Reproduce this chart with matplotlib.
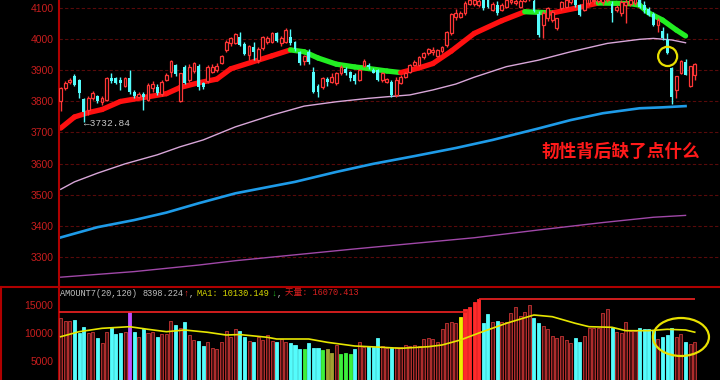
import numpy as np
import matplotlib.pyplot as plt
from matplotlib.patches import Ellipse
from matplotlib.lines import Line2D

plt.rcParams['font.family'] = ['Liberation Sans', 'Noto Sans CJK SC', 'DejaVu Sans']

# 日K线 开 高 低 收
opens = [3800, 3843, 3862, 3882, 3869, 3807, 3772, 3810, 3817, 3797,
         3805, 3876, 3875, 3868, 3850, 3875, 3832, 3815, 3825, 3805,
         3843, 3845, 3824, 3870, 3895, 3917, 3800, 3912, 3868, 3898,
         3914, 3858, 3865, 3895, 3900, 3925, 3966, 3987, 3988, 4008,
         3985, 3950, 3975, 3933, 3971, 3992, 3992, 4021, 3988, 3992,
         4006, 3990, 3960, 3930, 3960, 3895, 3850, 3845, 3872, 3864,
         3858, 3890, 3906, 3895, 3885, 3868, 3915, 3918, 3900, 3901,
         3869, 3864, 3864, 3821, 3859, 3878, 3896, 3918, 3917, 3942,
         3955, 3958, 3945, 3961, 3982, 4020, 4073, 4073, 4086, 4115,
         4115, 4112, 4130, 4130, 4095, 4112, 4095, 4105, 4120, 4118,
         4105, 4125, 4130, 4125, 4083, 4045, 4068, 4062, 4036, 4100,
         4105, 4120, 4130, 4110, 4095, 4118, 4122, 4125, 4120, 4128,
         4115, 4095, 4084, 4110, 4115, 4118, 4135, 4112, 4097, 4083,
         4046, 4028, 3998, 3907, 3837, 3891, 3928, 3849, 3885]
highs = [3845, 3866, 3875, 3887, 3873, 3810, 3816, 3835, 3822, 3818,
         3878, 3890, 3880, 3880, 3880, 3900, 3838, 3830, 3830, 3858,
         3866, 3855, 3868, 3890, 3935, 3922, 3893, 3918, 3920, 3926,
         3920, 3862, 3916, 3920, 3925, 3950, 3998, 4008, 4022, 4025,
         3990, 3982, 3990, 3975, 4012, 4012, 4024, 4025, 4010, 4035,
         4032, 3995, 3964, 3950, 3968, 3912, 3856, 3880, 3880, 3890,
         3895, 3916, 3912, 3898, 3890, 3905, 3937, 3925, 3908, 3905,
         3895, 3874, 3868, 3878, 3885, 3895, 3920, 3933, 3945, 3960,
         3972, 3976, 3970, 3980, 4028, 4085, 4097, 4090, 4125, 4135,
         4130, 4130, 4135, 4135, 4120, 4125, 4118, 4135, 4135, 4135,
         4130, 4145, 4145, 4130, 4092, 4090, 4105, 4095, 4070, 4125,
         4135, 4138, 4138, 4115, 4140, 4140, 4142, 4145, 4140, 4142,
         4122, 4112, 4128, 4130, 4130, 4140, 4140, 4122, 4103, 4088,
         4068, 4041, 4020, 3912, 3883, 3935, 3938, 3915, 3925]
lows = [3768, 3838, 3855, 3850, 3810, 3732.84, 3755, 3805, 3795, 3790,
        3800, 3860, 3855, 3838, 3845, 3825, 3810, 3810, 3772, 3800,
        3832, 3820, 3818, 3865, 3880, 3882, 3798, 3855, 3862, 3893,
        3837, 3840, 3860, 3890, 3895, 3920, 3960, 3977, 3985, 3978,
        3948, 3935, 3935, 3925, 3965, 3985, 3988, 3990, 3978, 3988,
        3983, 3962, 3918, 3918, 3922, 3828, 3815, 3840, 3850, 3858,
        3854, 3885, 3886, 3865, 3855, 3865, 3910, 3905, 3890, 3865,
        3864, 3858, 3813, 3813, 3855, 3874, 3893, 3914, 3913, 3938,
        3950, 3950, 3942, 3955, 3975, 4015, 4062, 4068, 4080, 4110,
        4108, 4103, 4095, 4100, 4090, 4080, 4090, 4100, 4115, 4112,
        4100, 4120, 4122, 4089, 4009, 4005, 4060, 4055, 4030, 4095,
        4100, 4115, 4105, 4075, 4090, 4110, 4115, 4118, 4112, 4120,
        4057, 4088, 4075, 4053, 4108, 4110, 4100, 4085, 4075, 4042,
        4025, 3998, 3952, 3793, 3811, 3888, 3885, 3845, 3869]
closes = [3842, 3858, 3868, 3853, 3826, 3767, 3812, 3828, 3803, 3812,
          3875, 3867, 3858, 3860, 3877, 3830, 3818, 3825, 3815, 3853,
          3855, 3826, 3864, 3885, 3930, 3888, 3890, 3860, 3911, 3923,
          3845, 3848, 3912, 3912, 3915, 3947, 3992, 4003, 4017, 3982,
          3953, 3977, 3960, 3970, 4008, 4003, 4019, 3995, 4003, 4030,
          3987, 3968, 3925, 3945, 3928, 3832, 3832, 3875, 3862, 3880,
          3890, 3912, 3891, 3875, 3867, 3900, 3930, 3910, 3893, 3869,
          3893, 3871, 3821, 3869, 3880, 3892, 3917, 3928, 3942, 3957,
          3968, 3966, 3966, 3974, 4025, 4082, 4086, 4084, 4118, 4128,
          4126, 4125, 4100, 4105, 4115, 4086, 4112, 4127, 4127, 4125,
          4125, 4140, 4136, 4092, 4015, 4085, 4100, 4089, 4068, 4121,
          4128, 4130, 4111, 4078, 4130, 4135, 4128, 4136, 4132, 4135,
          4084, 4105, 4121, 4120, 4126, 4132, 4105, 4094, 4078, 4046,
          4062, 4003, 3955, 3815, 3882, 3931, 3885, 3913, 3922]

# 成交额
volumes = [12626, 12200, 12085, 12320, 10036, 11115, 9928, 10216, 9137, 8129,
           10108, 10935, 9802, 9928, 10108, 13705, 10108, 9317, 10647, 9928,
           10108, 9209, 9748, 9802, 12194, 11420, 10827, 12014, 9622, 8723,
           8597, 7698, 8309, 7338, 7104, 8417, 10396, 9317, 10647, 10342,
           9317, 8543, 8417, 9209, 8723, 9622, 8543, 8417, 8849, 8309,
           8129, 7824, 7104, 7104, 8237, 7230, 7338, 6924, 7104, 6439,
           7824, 6205, 6439, 6205, 7104, 8417, 7518, 7698, 7518, 9137,
           7600, 7230, 7230, 7518, 7518, 7824, 7700, 7824, 7700, 8849,
           9029, 8849, 8309, 10647, 11727, 11907, 11835, 12914, 14245, 14712,
           15612, 16070, 11835, 13400, 12014, 12194, 12014, 12014, 13525, 14604,
           13040, 13759, 15018, 12626, 11727, 11241, 10701, 9496, 9029, 9496,
           8723, 8237, 9029, 8417, 9442, 10827, 10827, 10827, 13525, 14299,
           11115, 10216, 9928, 11907, 10396, 10396, 10827, 10647, 10647, 10521,
           8849, 9317, 9622, 10827, 9317, 9748, 8417, 8004, 8398]
purple_bars = [15]
green_bars = [53, 57, 61, 62, 63]
olive_bars = [58, 59]
yellow_bars = [87]
bright_bars = [88, 89, 90, 91]

# 均线 (读图取样点)
ma_fast_idx = [0, 3, 6, 9, 13, 19, 23, 26, 30, 34, 37, 43, 46, 50, 53, 56, 60, 64, 67,
               71, 74, 78, 81, 85, 90, 96, 101, 104, 107, 112, 117, 121, 124, 126, 128,
               131, 134, 136]
ma_fast_val = [3714, 3750, 3764, 3774, 3800, 3815, 3825, 3845, 3860, 3872, 3905, 3933,
               3947, 3966, 3960, 3940, 3920, 3911, 3906, 3898, 3893, 3908, 3922, 3962,
               4019, 4060, 4089, 4087, 4085, 4100, 4117, 4116, 4115, 4110, 4085, 4062,
               4030, 4011]
ma60_idx = [0, 3, 8, 14, 21, 26, 31, 38, 46, 53, 60, 67, 71, 76, 81, 86, 90, 97, 104,
            111, 119, 126, 129, 133, 136]
ma60_val = [3517, 3541, 3569, 3599, 3628, 3654, 3676, 3718, 3756, 3785, 3799, 3810,
            3815, 3821, 3837, 3856, 3878, 3912, 3933, 3960, 3987, 4000, 4003, 3998, 3989]
ma120_idx = [0, 8, 16, 23, 30, 38, 45, 51, 60, 68, 77, 86, 94, 104, 111, 118, 126, 131, 136]
ma120_val = [3362, 3395, 3418, 3442, 3472, 3504, 3524, 3541, 3573, 3599, 3624, 3650,
             3676, 3713, 3740, 3762, 3778, 3781, 3785]
ma250_idx = [0, 16, 30, 38, 64, 90, 104, 118, 129, 136]
ma250_val = [3234, 3252, 3273, 3287, 3325, 3361, 3386, 3410, 3427, 3433]

vma_idx = [0, 4, 9, 15, 19, 23, 27, 32, 36, 39, 45, 47, 54, 58, 64, 70, 74, 80, 83, 87,
           91, 97, 103, 107, 112, 115, 120, 123, 128, 132, 136, 138]
vma_val = [9317, 10216, 10827, 11115, 10647, 10216, 10522, 10108, 9622, 9700, 9209,
           8903, 8903, 8309, 7644, 7410, 7230, 7518, 7824, 8723, 9970, 11727, 13219,
           12914, 11727, 11115, 11007, 10396, 10396, 10647, 10522, 10130]

tianliang = [13705, 16070]
tianliang_span = [(-0.4, 88.4), (91, 138)]

price_ticks = [3300, 3400, 3500, 3600, 3700, 3800, 3900, 4000, 4100]
vol_ticks = [5000, 10000, 15000]

RED = '#ff3636'
CYAN = '#54fcfc'
AXIS_RED = '#b00000'
LABEL_RED = '#c81e1e'
GRID = '#580a0a'
MONO = ['Liberation Mono', 'DejaVu Sans Mono', 'Noto Sans CJK SC']

fig = plt.figure(figsize=(7.2, 3.8), dpi=100, facecolor='black')
ax = fig.add_axes([59/720, 94/380, 661/720, 286/380], facecolor='black')
axv = fig.add_axes([59/720, 0, 661/720, 93/380], facecolor='black', sharex=ax)

x = np.arange(len(closes))
o = np.array(opens, float)
c = np.array(closes, float)
hi = np.array(highs, float)
lo = np.array(lows, float)
up = c >= o

# 均线
ax.plot(ma250_idx, ma250_val, color='#a048a8', lw=1, zorder=2)
ax.plot(ma120_idx, ma120_val, color='#1e9be8', lw=1.9, zorder=2)
ax.plot(ma60_idx, ma60_val, color='#d8a6d8', lw=1, zorder=2)
for k in range(len(ma_fast_idx) - 1):
    col = '#ff1010' if ma_fast_val[k + 1] >= ma_fast_val[k] else '#22ee22'
    ax.plot(ma_fast_idx[k:k + 2], ma_fast_val[k:k + 2], color=col, lw=3.8,
            solid_capstyle='round', zorder=2)

# K线
ax.vlines(x, lo, hi, colors=np.where(up, RED, CYAN), lw=1, zorder=3)
body_lo = np.minimum(o, c)
body_h = np.maximum(np.abs(c - o), 2.5)
ax.bar(x[up], body_h[up], bottom=body_lo[up], width=0.62, facecolor='black',
       edgecolor=RED, lw=0.9, zorder=4)
ax.bar(x[~up], body_h[~up], bottom=body_lo[~up], width=0.62, color=CYAN, lw=0, zorder=4)

ax.text(5, 3729, '\u21903732.84', ha='left', va='center', color='#c8c8c8',
        fontsize=6.8, family=MONO)

ax.add_patch(Ellipse((132.1, 3945), 4.14, 62, fill=False, edgecolor='#e8e000', lw=1.6, zorder=6))

ax.set_xlim(-0.37, 143.5)
ax.set_ylim(3205.6, 4126.7)
ax.set_yticks(price_ticks)
ax.grid(axis='y', color=GRID, lw=0.8, ls=(0, (3, 2)))
ax.tick_params(axis='y', length=0, pad=4, labelcolor=LABEL_RED, labelsize=7.5)
ax.tick_params(axis='x', bottom=False, labelbottom=False)
for s in ['top', 'right', 'bottom']:
    ax.spines[s].set_visible(False)
ax.spines['left'].set_color(AXIS_RED)
ax.spines['left'].set_linewidth(1.5)

# 成交额柱
vol = np.array(volumes, float)
face = np.where(up, '#4a1212', CYAN).astype(object)
edge = np.where(up, '#c83434', CYAN).astype(object)
for i in purple_bars:
    face[i] = edge[i] = '#c050ff'
for i in green_bars:
    face[i] = edge[i] = '#3cf03c'
for i in olive_bars:
    face[i] = edge[i] = '#a0a030'
for i in yellow_bars:
    face[i] = edge[i] = '#f0f000'
for i in bright_bars:
    face[i] = edge[i] = '#ff2a2a'
axv.bar(x, vol, width=0.66, color=list(face), edgecolor=list(edge), lw=0.6, zorder=3)
axv.plot(vma_idx, vma_val, color='#e6e600', lw=1.2, zorder=4)
for lvl, (a, b) in zip(tianliang, tianliang_span):
    axv.hlines(lvl, a, b, colors='#e02020', lw=1.3, zorder=5)
axv.add_patch(Ellipse((135, 9263), 12.2, 6835, fill=False, edgecolor='#e8e000',
                      lw=1.6, zorder=6, clip_on=False))

axv.set_ylim(1529, 18255)
axv.set_yticks(vol_ticks)
axv.tick_params(axis='y', length=0, pad=4, labelcolor=LABEL_RED, labelsize=7.5)
axv.tick_params(axis='x', bottom=False, labelbottom=False)
for s in ['right', 'bottom', 'top']:
    axv.spines[s].set_visible(False)
axv.spines['left'].set_color(AXIS_RED)
axv.spines['left'].set_linewidth(1.5)

fig.add_artist(Line2D([0, 1], [93.5/380, 93.5/380], color=AXIS_RED, lw=1.5,
                      transform=fig.transFigure))
fig.add_artist(Line2D([1/720, 1/720], [0, 93.5/380], color=AXIS_RED, lw=1.5,
                      transform=fig.transFigure))

# 指标标题
ty = 1 - 293/380
fig.text(60/720, ty, 'AMOUNT7(20,120)', color='#c0c0c0', fontsize=6.2, family=MONO, va='center')
fig.text(142.5/720, ty, '8398.224', color='#c0c0c0', fontsize=6.2, family=MONO, va='center')
fig.text(183.5/720, ty, '\u2191', color='#ff3030', fontsize=6.2, family=MONO, va='center')
fig.text(189/720, ty, ',', color='#c0c0c0', fontsize=6.2, family=MONO, va='center')
fig.text(196.7/720, ty, 'MA1: 10130.149', color='#d8d800', fontsize=6.2, family=MONO, va='center')
fig.text(271.5/720, ty, '\u2193', color='#20c020', fontsize=6.2, family=MONO, va='center')
fig.text(277/720, ty, ',', color='#c0c0c0', fontsize=6.2, family=MONO, va='center')
fig.text(285/720, ty, '天量: 16070.413', color='#d82020', fontsize=6.2, family=MONO, va='center')

fig.text(541/720, 1 - 151.7/380, '韧性背后缺了点什么', color='#ff1a1a', fontsize=12.7,
         fontweight='bold', family=['Noto Sans CJK SC', 'DejaVu Sans'], va='center')

fig.savefig('out.png', dpi=100, facecolor='black')
